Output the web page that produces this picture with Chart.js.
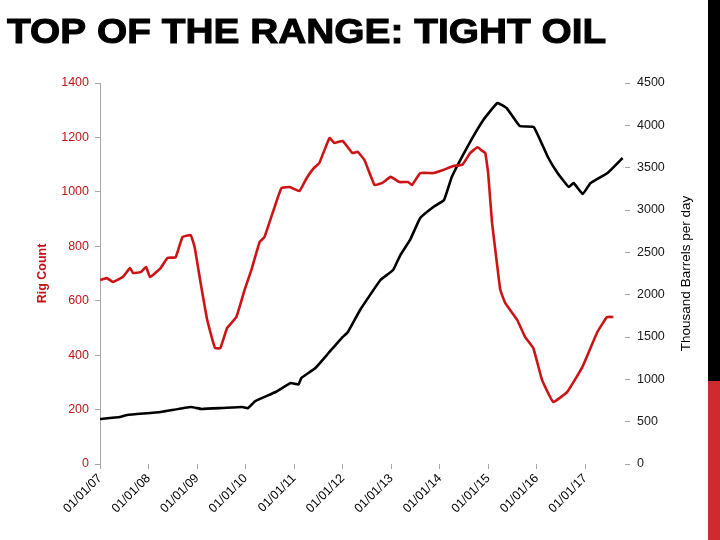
<!DOCTYPE html>
<html>
<head>
<meta charset="utf-8">
<script src="https://cdn.jsdelivr.net/npm/chart.js@4.4.1/dist/chart.umd.min.js"></script>
<style>
  html, body { margin: 0; padding: 0; background: #ffffff; }
  #wrap { position: relative; width: 720px; height: 540px; overflow: hidden; }
  #c { position: absolute; left: 0; top: 0; }
  #barTop { position: absolute; left: 708px; top: 0; width: 12px; height: 381px; background: #000000; }
  #barBot { position: absolute; left: 708px; top: 381px; width: 12px; height: 159px; background: #cf2a2e; }
</style>
</head>
<body>
<div id="wrap">
  <canvas id="c" width="720" height="540"></canvas>
  <div id="barTop"></div>
  <div id="barBot"></div>
</div>
<script>
// ---- Data ----
const titleText = "TOP OF THE RANGE: TIGHT OIL";
const leftAxisTitle = "Rig Count";
const rightAxisTitle = "Thousand Barrels per day";

// Rig count (left axis), dates as decimal years
const rigYears = [
  2007.00, 2007.14, 2007.27, 2007.47, 2007.62, 2007.68, 2007.84, 2007.95,
  2008.03, 2008.25, 2008.39, 2008.56, 2008.70, 2008.87, 2008.95,
  2009.06, 2009.21, 2009.37, 2009.48, 2009.62, 2009.81, 2009.98,
  2010.12, 2010.29, 2010.39, 2010.60, 2010.74, 2010.91,
  2011.11, 2011.26, 2011.41, 2011.52, 2011.73, 2011.83, 2012.00,
  2012.20, 2012.31, 2012.45, 2012.66, 2012.82, 2012.99,
  2013.17, 2013.35, 2013.43, 2013.60, 2013.87, 2014.07, 2014.28, 2014.47,
  2014.63, 2014.78, 2014.88, 2014.94, 2015.00, 2015.08, 2015.19, 2015.25,
  2015.35, 2015.60, 2015.76, 2015.93, 2016.11, 2016.34, 2016.63, 2016.94,
  2017.25, 2017.45, 2017.58
];
const rigCount = [
  676, 683, 669, 687, 720, 702, 705, 724,
  687, 720, 757, 760, 834, 841, 797,
  680, 529, 426, 426, 500, 540, 640,
  713, 816, 834, 945, 1014, 1018,
  1003, 1051, 1088, 1106, 1198, 1180, 1187,
  1143, 1147, 1117, 1025, 1033, 1055,
  1036, 1036, 1025, 1069, 1069, 1080, 1095, 1100,
  1143, 1164, 1150, 1143, 1069, 886, 724, 640,
  592, 529, 467, 426, 309, 228, 265, 356,
  485, 540, 540
];

// Tight oil production, thousand barrels per day (right axis)
const prodYears = [
  2007.00, 2007.41, 2007.56, 2008.25, 2008.87, 2009.09, 2009.52, 2009.93, 2010.05,
  2010.20, 2010.62, 2010.93, 2011.09, 2011.15, 2011.44, 2011.71, 2011.98,
  2012.11, 2012.36, 2012.78, 2013.04, 2013.19, 2013.39, 2013.60, 2013.87,
  2014.09, 2014.25, 2014.57, 2014.90, 2015.19, 2015.38, 2015.65, 2015.94,
  2016.23, 2016.43, 2016.66, 2016.76, 2016.95, 2017.11, 2017.46, 2017.77
];
const prodKbd = [
  531, 555, 579, 614, 673, 650, 661, 673, 660,
  744, 850, 957, 940, 1016, 1134, 1311, 1488,
  1560, 1819, 2173, 2291, 2468, 2646, 2905, 3035,
  3118, 3390, 3744, 4063, 4264, 4205, 3992, 3980,
  3626, 3437, 3272, 3319, 3189, 3319, 3437, 3614
];

const xMin = 2007, xMax = 2017.82;
const xTickYears = [2007, 2008, 2009, 2010, 2011, 2012, 2013, 2014, 2015, 2016, 2017];
const leftTicks = [0, 200, 400, 600, 800, 1000, 1200, 1400];
const rightTicks = [0, 500, 1000, 1500, 2000, 2500, 3000, 3500, 4000, 4500];

const rigPoints = rigYears.map((x, i) => ({ x: x, y: rigCount[i] }));
const prodPoints = prodYears.map((x, i) => ({ x: x, y: prodKbd[i] }));

const FONT = "'Liberation Sans', Arial, sans-serif";
const RED = '#cc1417';

const textPlugin = {
  id: 'slideText',
  afterDraw(chart) {
    const ctx = chart.ctx;
    // Slide title
    ctx.save();
    ctx.font = "bold 35px " + FONT;
    ctx.fillStyle = '#000000';
    ctx.strokeStyle = '#000000';
    ctx.lineWidth = 1.0;
    ctx.textBaseline = 'alphabetic';
    ctx.textAlign = 'left';
    ctx.translate(7, 43);
    ctx.scale(1.11, 1);
    ctx.fillText(titleText, 0, 0);
    ctx.strokeText(titleText, 0, 0);
    ctx.restore();
    // Right axis title, reading bottom to top
    const a = chart.chartArea;
    ctx.save();
    ctx.font = "13.5px " + FONT;
    ctx.fillStyle = '#000000';
    ctx.textAlign = 'center';
    ctx.textBaseline = 'middle';
    ctx.translate(686, (a.top + a.bottom) / 2);
    ctx.rotate(-Math.PI / 2);
    ctx.fillText(rightAxisTitle, 0, 0);
    ctx.restore();
  }
};

new Chart(document.getElementById('c'), {
  type: 'line',
  data: {
    datasets: [
      {
        label: 'Rig Count',
        data: rigPoints,
        yAxisID: 'yL',
        borderColor: RED,
        borderWidth: 2.6,
        pointRadius: 0,
        tension: 0.1,
        fill: false
      },
      {
        label: 'Production',
        data: prodPoints,
        yAxisID: 'yR',
        borderColor: '#000000',
        borderWidth: 2.6,
        pointRadius: 0,
        tension: 0.1,
        fill: false
      }
    ]
  },
  options: {
    responsive: false,
    animation: false,
    events: [],
    layout: { padding: { left: 30, right: 12, top: 83, bottom: 0 } },
    plugins: { legend: { display: false }, tooltip: { enabled: false }, title: { display: false } },
    scales: {
      x: {
        type: 'linear',
        min: xMin,
        max: xMax,
        afterBuildTicks(scale) { scale.ticks = xTickYears.map(v => ({ value: v })); },
        afterFit(scale) { scale.height = 76; },
        border: { display: false },
        grid: { display: true, drawOnChartArea: false, drawTicks: true, tickLength: 5, color: '#a6a6a6' },
        ticks: {
          maxRotation: 45, minRotation: 45, autoSkip: false, padding: 2,
          color: '#000000',
          font: { family: FONT, size: 12.5 },
          callback: (v) => '01/01/' + String(v).slice(2)
        }
      },
      yL: {
        position: 'left',
        min: 0, max: 1400,
        afterBuildTicks(scale) { scale.ticks = leftTicks.map(v => ({ value: v })); },
        afterFit(scale) { scale.width = 70; },
        border: { display: true, color: '#a6a6a6', width: 1 },
        grid: { display: true, drawOnChartArea: false, drawTicks: true, tickLength: 5, color: '#a6a6a6' },
        ticks: { color: '#c0141a', padding: 6, font: { family: FONT, size: 12.5 }, callback: (v) => String(v) },
        title: {
          display: true, text: leftAxisTitle, color: '#c0141a',
          font: { family: FONT, size: 12.5, weight: 'bold' },
          padding: { top: 5, bottom: 0 }
        }
      },
      yR: {
        position: 'right',
        min: 0, max: 4500,
        afterBuildTicks(scale) { scale.ticks = rightTicks.map(v => ({ value: v })); },
        afterFit(scale) { scale.width = 83; },
        border: { display: false },
        grid: { display: true, drawOnChartArea: false, drawTicks: true, tickLength: 5, color: '#a6a6a6' },
        ticks: { color: '#1a1a1a', padding: 7, font: { family: FONT, size: 12.5 }, callback: (v) => String(v) },
        title: { display: false }
      }
    }
  },
  plugins: [textPlugin]
});
</script>
</body>
</html>
